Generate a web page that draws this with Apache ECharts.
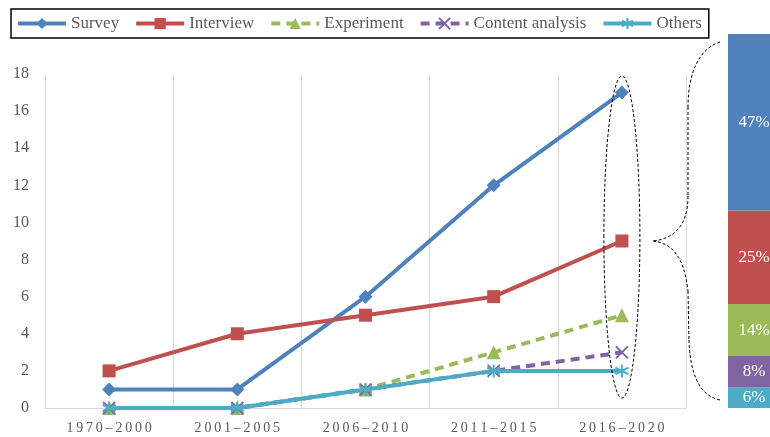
<!DOCTYPE html>
<html>
<head>
<meta charset="utf-8">
<script src="https://cdn.jsdelivr.net/npm/echarts@6/dist/echarts.min.js"></script>
<style>
  html, body { margin: 0; padding: 0; background: #fff; }
  #chart { width: 770px; height: 437px; }
</style>
</head>
<body>
<div id="chart"></div>
<script>
// data
const periods = ['1970\u20132000', '2001\u20132005', '2006\u20132010', '2011\u20132015', '2016\u20132020'];
const survey = [1, 1, 6, 12, 17];
const interview = [2, 4, 5, 6, 9];
const experiment = [0, 0, 1, 3, 5];
const contentAnalysis = [0, 0, 1, 2, 3];
const others = [0, 0, 1, 2, 2];
const yTicks = [0, 2, 4, 6, 8, 10, 12, 14, 16, 18];

const colors = {
  survey: '#4F81BD',
  interview: '#C0504D',
  experiment: '#9BBB59',
  content: '#8064A2',
  others: '#4BACC6'
};
const serif = '"Liberation Serif", "DejaVu Serif", serif';

// share of each method in the last period (stacked bar on the right)
const last = arr => arr[arr.length - 1];
const lastTotal = last(survey) + last(interview) + last(experiment) + last(contentAnalysis) + last(others);

const chart = echarts.init(document.getElementById('chart'));

const lineSeries = (name, data, color, symbol, dashed, size) => ({
  name: name,
  type: 'line',
  xAxisIndex: 0,
  yAxisIndex: 0,
  data: data,
  symbol: symbol,
  symbolSize: size,
  showAllSymbol: true,
  lineStyle: { color: color, width: 4, type: dashed ? [9, 6] : 'solid' },
  itemStyle: { color: color, borderColor: color, borderWidth: 0 },
  z: 3
});

const crossPath = 'path://M0,0 L10,10 M10,0 L0,10';
const starPath = 'path://M5,0 L5,10 M0,2.5 L10,7.5 M10,2.5 L0,7.5';

const barSeries = (name, value, color) => ({
  name: name,
  type: 'bar',
  xAxisIndex: 1,
  yAxisIndex: 1,
  stack: 'share',
  barWidth: '100%',
  data: [value],
  itemStyle: { color: color },
  label: {
    show: true,
    position: 'inside',
    offset: [5, 0],
    color: '#fff',
    fontFamily: serif,
    fontSize: 17,
    formatter: p => Math.round(p.value / lastTotal * 100) + '%'
  },
  silent: true
});

const cSeries = lineSeries('Content analysis', contentAnalysis, colors.content, crossPath, true, 12);
cSeries.itemStyle = { color: 'none', borderColor: colors.content, borderWidth: 2 };
const oSeries = lineSeries('Others', others, colors.others, starPath, false, 13);
oSeries.itemStyle = { color: 'none', borderColor: colors.others, borderWidth: 2 };

chart.setOption({
  animation: false,
  legend: {
    data: ['Survey', 'Interview', 'Experiment', 'Content analysis', 'Others'],
    left: 11,
    top: 9,
    padding: [6, 7, 6, 5],
    itemGap: 15,
    itemWidth: 48,
    itemHeight: 14,
    lineStyle: { width: 4 },
    borderColor: '#000',
    borderWidth: 1.5,
    textStyle: { fontFamily: serif, fontSize: 17, color: '#595959' }
  },
  grid: [
    { left: 45, right: 84, top: 74, bottom: 29 },
    { left: 728, right: -12, top: 34, bottom: 29 }
  ],
  xAxis: [
    {
      type: 'category',
      gridIndex: 0,
      data: periods,
      boundaryGap: true,
      axisLine: { lineStyle: { color: '#D9D9D9', width: 1 } },
      axisTick: { show: false },
      axisLabel: {
        fontFamily: serif,
        fontSize: 14,
        color: '#595959',
        margin: 13,
        // the source spaces its period labels out
        formatter: v => v.split('').join('\u2009')
      },
      splitLine: { show: true, lineStyle: { color: '#D9D9D9', width: 1 } }
    },
    {
      type: 'category',
      gridIndex: 1,
      data: [''],
      show: false
    }
  ],
  yAxis: [
    {
      type: 'value',
      gridIndex: 0,
      min: yTicks[0],
      max: yTicks[yTicks.length - 1],
      interval: 2,
      axisLine: { show: false },
      axisTick: { show: false },
      axisLabel: { fontFamily: serif, fontSize: 16, color: '#595959', margin: 16 },
      splitLine: { show: false }
    },
    {
      type: 'value',
      gridIndex: 1,
      min: 0,
      max: lastTotal,
      show: false
    }
  ],
  series: [
    lineSeries('Survey', survey, colors.survey, 'diamond', false, 14),
    lineSeries('Interview', interview, colors.interview, 'rect', false, 13),
    lineSeries('Experiment', experiment, colors.experiment, 'triangle', true, 14),
    cSeries,
    oSeries,
    barSeries('Others share', last(others), colors.others),
    barSeries('Content analysis share', last(contentAnalysis), colors.content),
    barSeries('Experiment share', last(experiment), colors.experiment),
    barSeries('Interview share', last(interview), colors.interview),
    barSeries('Survey share', last(survey), colors.survey)
  ]
});

// dashed ellipse around the last period and the brace pointing to the share bar
const lastIdx = periods.length - 1;
const pTop = chart.convertToPixel({ gridIndex: 0 }, [lastIdx, 18]);
const pBottom = chart.convertToPixel({ gridIndex: 0 }, [lastIdx, 0]);
const cx = pTop[0];
const ey1 = pTop[1] + 2;
const ey2 = pBottom[1] - 10;
const tipX = cx + 31;
const tipY = chart.convertToPixel({ gridIndex: 0 }, [lastIdx, 9])[1];
const dash = { fill: 'none', stroke: '#000', lineWidth: 1, lineDash: [3, 2] };
const bx = 720, midX = 688, bTop = 42, bBot = 400;

const curve = (x1, y1, cpx1, cpy1, cpx2, cpy2, x2, y2) => ({
  type: 'bezierCurve',
  shape: { x1, y1, cpx1, cpy1, cpx2, cpy2, x2, y2 },
  style: dash, z: 10, silent: true
});
const seg = (x1, y1, x2, y2) => ({
  type: 'line',
  shape: { x1, y1, x2, y2 },
  style: dash, z: 10, silent: true
});

chart.setOption({
  graphic: [
    {
      type: 'ellipse',
      shape: { cx: cx, cy: (ey1 + ey2) / 2, rx: 18, ry: (ey2 - ey1) / 2 },
      style: dash,
      z: 10,
      silent: true
    },
    curve(bx, bTop, 700, bTop + 6, midX, bTop + 30, midX, bTop + 65),
    seg(midX, bTop + 65, midX, tipY - 45),
    curve(midX, tipY - 45, midX, tipY - 12, tipX + 18, tipY - 2, tipX, tipY),
    curve(tipX, tipY, tipX + 18, tipY + 2, midX - 4, tipY + 14, midX, tipY + 50),
    seg(midX, tipY + 50, midX + 1, bBot - 60),
    curve(midX + 1, bBot - 60, midX + 2, bBot - 25, 700, bBot - 4, bx, bBot)
  ]
});
</script>
</body>
</html>
